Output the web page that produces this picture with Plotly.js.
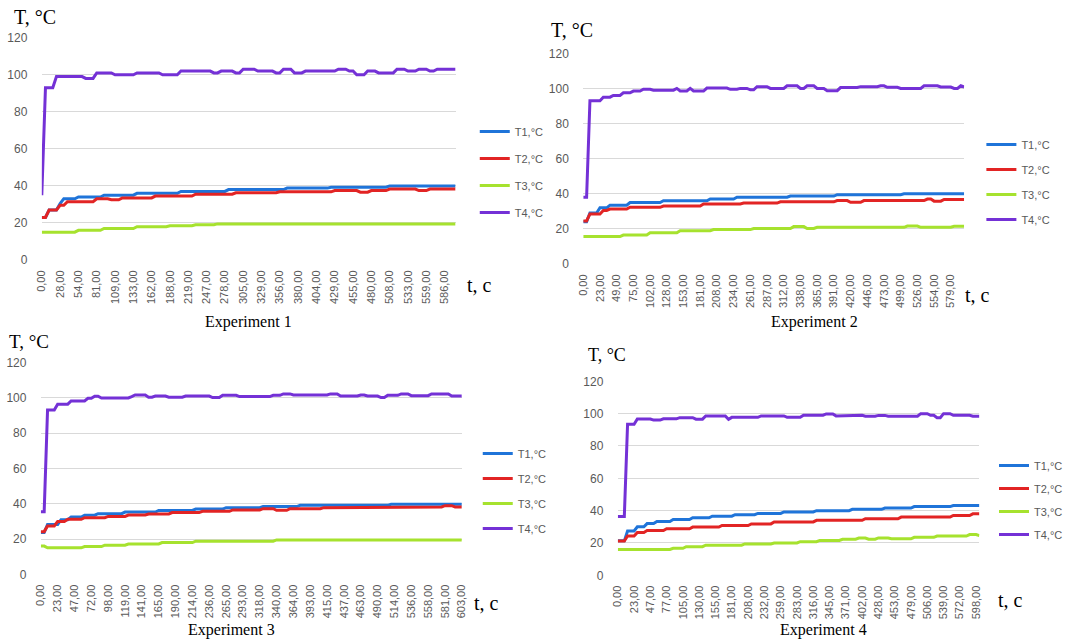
<!DOCTYPE html>
<html>
<head>
<meta charset="utf-8">
<script src="https://cdn.plot.ly/plotly-3.0.1.min.js"></script>
<style>html,body{margin:0;padding:0;background:#fff;}#chart{width:1068px;height:639px;}</style>
</head>
<body>
<div id="chart"></div>
<script>
// ---------- Tick labels (time, s) ----------
const e1Ticks = ["0,00","28,00","54,00","81,00","109,00","133,00","162,00","188,00","219,00","247,00","278,00","305,00","329,00","356,00","380,00","404,00","429,00","455,00","480,00","508,00","533,00","559,00","586,00"];
const e2Ticks = ["0,00","23,00","49,00","75,00","102,00","128,00","153,00","181,00","208,00","234,00","261,00","287,00","312,00","338,00","365,00","391,00","420,00","446,00","473,00","499,00","526,00","554,00","579,00"];
const e3Ticks = ["0,00","23,00","47,00","72,00","98,00","119,00","141,00","165,00","190,00","214,00","236,00","265,00","293,00","318,00","340,00","364,00","393,00","415,00","437,00","463,00","490,00","514,00","536,00","558,00","581,00","603,00"];
const e4Ticks = ["0,00","23,00","47,00","77,00","105,00","130,00","155,00","181,00","208,00","232,00","259,00","283,00","316,00","345,00","371,00","402,00","428,00","453,00","479,00","506,00","539,00","572,00","598,00"];

const seriesNames = ["T1,°C","T2,°C","T3,°C","T4,°C"];

// ---------- Experiment 1 ----------
const e1T1 = [23,23,27,27,27,30.5,33,33,33,33,
 34,34,34,34,34,34,34,35,35,35,
 35,35,35,35,35,35,36,36,36,36,
 36,36,36,36,36,36,36,36,37,37,
 37,37,37,37,37,37,37,37,37,37,
 37,38,38,38,38,38,38,38,38,38,
 38,38,38,38,38,38,38,38.8,38.8,38.8,
 38.8,38.8,38.8,38.8,38.8,38.8,38.8,38.8,38.8,39.3,
 39.3,39.3,39.3,39.3,39.3,39.3,39.3,39.3,39.3,39.3,
 39.3,39.3,39.3,39.3,39.3,40,40,40,40,40,
 40,40,40,40,40,40,40,40,40,40,
 40,40,40,40];
const e1T2 = [23,23,27,27,27,29.5,29.5,31.5,31.5,31.5,
 31.5,31.5,31.5,31.5,31.5,33,33,33,33,32.5,
 32.5,32.5,33.5,33.5,33.5,33.5,33.5,33.5,33.5,33.5,
 33.5,34.5,34.5,34.5,34.5,34.5,34.5,34.5,34.5,34.5,
 34.5,34.5,35.5,35.5,35.5,35.5,35.5,35.5,35.5,35.5,
 35.5,35.5,35.5,36.3,36.3,36.3,36.3,36.3,36.3,36.3,
 36.3,36.3,36.3,36.3,36.3,36.8,36.8,36.8,36.8,36.8,
 36.8,36.8,36.8,36.8,36.8,36.8,36.8,36.8,36.8,36.8,
 37.5,37.5,37.5,37.5,37.5,37.5,37.5,36.6,36.6,36.6,
 37.5,37.5,37.5,37.5,37.5,38.3,38.3,38.3,38.3,38.3,
 38.3,38.3,38.3,37.5,37.5,37.5,38.3,38.3,38.3,38.3,
 38.3,38.3,38.3,38.3];
const e1T3 = [15,15,15,15,15,15,15,15,15,15,
 16,16,16,16,16,16,16,17,17,17,
 17,17,17,17,17,17,18,18,18,18,
 18,18,18,18,18,18.5,18.5,18.5,18.5,18.5,
 18.5,18.5,19,19,19,19,19,19,19.5,19.5,
 19.5,19.5,19.5,19.5,19.5,19.5,19.5,19.5,19.5,19.5,
 19.5,19.5,19.5,19.5,19.5,19.5,19.5,19.5,19.5,19.5,
 19.5,19.5,19.5,19.5,19.5,19.5,19.5,19.5,19.5,19.5,
 19.5,19.5,19.5,19.5,19.5,19.5,19.5,19.5,19.5,19.5,
 19.5,19.5,19.5,19.5,19.5,19.5,19.5,19.5,19.5,19.5,
 19.5,19.5,19.5,19.5,19.5,19.5,19.5,19.5,19.5,19.5,
 19.5,19.5,19.5,19.5];
const e1T4 = [35,93,93,93,99,99,99,99,99,99,
 99,99,98,98,98,101,101,101,101,101,
 100,100,100,100,100,100,101,101,101,101,
 101,101,101,100,100,100,100,100,102,102,
 102,102,102,102,102,102,102,101,101,102,
 102,102,102,101,101,103,103,103,103,102,
 102,102,102,102,101,101,103,103,103,101,
 101,101,102,102,102,102,102,102,102,102,
 102,103,103,103,102,102,100,100,100,102,
 102,102,101,101,101,101,101,103,103,103,
 102,102,102,103,103,103,102,102,103,103,
 103,103,103,103];

// ---------- Experiment 2 ----------
const e2T1 = [24,24,29,29,29,32,32,32,33.5,33.5,
 33.5,33.5,33.5,33.5,35,35,35,35,35,35,
 35,35,35,35,36,36,36,36,36,36,
 36,36,36,36,36,36,36,36,37,37,
 37,37,37,37,37,37,38,38,38,38,
 38,38,38,38,38,38,38,38,38,38,
 38,38,38.7,38.7,38.7,38.7,38.7,38.7,38.7,38.7,
 38.7,38.7,38.7,38.7,38.7,38.7,39.5,39.5,39.5,39.5,
 39.5,39.5,39.5,39.5,39.5,39.5,39.5,39.5,39.5,39.5,
 39.5,39.5,39.5,39.5,39.5,39.5,40,40,40,40,
 40,40,40,40,40,40,40,40,40,40,
 40,40,40,40,40];
const e2T2 = [24.5,24.5,28.5,28.5,28.5,28.5,30.5,30.5,31.3,31.3,
 31.3,31.3,31.3,31.3,32.3,32.3,32.3,32.3,32.3,32.3,
 32.3,32.3,32.3,32.3,33,33,33,33,33,33,
 33,33,33,33,33,33,34.2,34.2,34.2,34.2,
 34.2,34.2,34.2,34.2,34.2,34.2,34.2,34.2,34.7,34.7,
 34.7,34.7,34.7,34.7,34.7,34.7,34.7,34.7,34.7,35.4,
 35.4,35.4,35.4,35.4,35.4,35.4,35.4,35.4,35.4,35.4,
 35.4,35.4,35.4,35.4,35.4,35.4,36.1,36.1,36.1,36.1,
 35.1,35.1,35.1,35.1,36.1,36.1,36.1,36.1,36.1,36.1,
 36.1,36.1,36.1,36.1,36.1,36.1,36.1,36.1,36.1,36.1,
 36.1,36.1,36.1,37,37,35.8,35.8,35.8,36.8,36.8,
 36.8,36.8,36.8,36.8,36.8];
const e2T3 = [15.6,15.6,15.6,15.6,15.6,15.6,15.6,15.6,15.6,15.6,
 15.6,15.6,16.5,16.5,16.5,16.5,16.5,16.5,16.5,16.5,
 17.8,17.8,17.8,17.8,17.8,17.8,17.8,17.8,17.8,19,
 19,19,19,19,19,19,19,19,19,19.6,
 19.6,19.6,19.6,19.6,19.6,19.6,19.6,19.6,19.6,19.6,
 19.6,20.2,20.2,20.2,20.2,20.2,20.2,20.2,20.2,20.2,
 20.2,20.2,20.2,21.3,21.3,21.3,21.3,20.2,20.2,20.2,
 20.9,20.9,20.9,20.9,20.9,20.9,20.9,20.9,20.9,20.9,
 20.9,20.9,20.9,20.9,20.9,20.9,20.9,20.9,20.9,20.9,
 20.9,20.9,20.9,20.9,20.9,20.9,20.9,21.6,21.6,21.6,
 21.6,20.9,20.9,20.9,20.9,20.9,20.9,20.9,20.9,20.9,
 20.9,21.5,21.5,21.5,21.5];
const e2T4 = [38,38,93,93,93,93,95,95,95,96,
 96,96,97.5,97.5,97.5,98.5,98.5,98.5,99.5,99.5,
 99.5,99,99,99,99,99,99,99,100,98.5,
 98.5,98.5,100,98.5,98.5,98.5,98.5,100.2,100.2,100.2,
 100.2,100.2,100.2,100.2,99.5,99.5,99.5,100,100,100,
 99.2,99.2,101,101,101,101,100,100,100,100,
 100,101.5,101.5,101.5,101.5,100,100,101.5,101.5,101.5,
 100,100,100,98.7,98.7,98.7,98.7,100.5,100.5,100.5,
 100.5,100.5,100.5,101,101,101,101,101,101,101.5,
 101.5,100.6,100.6,100.6,100.6,100,100,100,100,100,
 100,100,101.5,101.5,101.5,101.5,101.5,100.8,100.8,100.8,
 100.8,100,100,101.5,100.8];

// ---------- Experiment 3 ----------
const e3T1 = [23.7,23.7,28.3,28.3,28.3,28.3,31,31,31,32.5,
 32.5,32.5,32.5,33.5,33.5,33.5,33.5,34.4,34.4,34.4,
 34.4,34.4,34.4,34.4,34.4,35.3,35.3,35.3,35.3,35.3,
 35.3,35.3,35.3,35.3,35.3,36.2,36.2,36.2,36.2,36.2,
 36.2,36.2,36.2,36.2,36.2,36.2,37,37,37,37,
 37,37,37,37,37,37.8,37.8,37.8,37.8,37.8,
 37.8,37.8,37.8,37.8,37.8,37.8,38.4,38.4,38.4,38.4,
 38.4,38.4,38.4,38.4,38.4,38.4,38.4,39.1,39.1,39.1,
 39.1,39.1,39.1,39.1,39.1,39.1,39.1,39.1,39.1,39.1,
 39.1,39.1,39.1,39.1,39.1,39.1,39.1,39.1,39.1,39.1,
 39.1,39.1,39.1,39.1,39.7,39.7,39.7,39.7,39.7,39.7,
 39.7,39.7,39.7,39.7,39.7,39.7,39.7,39.7,39.7,39.7,
 39.7,39.7,39.7,39.7,39.7,39.7];
const e3T2 = [24.2,24.2,27.4,27.4,27.4,30,30,30,31.2,31.2,
 31.2,31.2,31.2,32.1,32.1,32.1,32.1,32.1,32.1,32.1,
 32.8,32.8,32.8,32.8,32.8,32.8,33.6,33.6,33.6,33.6,
 33.6,33.6,34.2,34.2,34.2,34.2,34.2,34.2,34.2,35,
 35,35,35,35,35,35,35,35,35.7,35.7,
 35.7,35.7,35.7,35.7,35.7,35.7,35.7,36.5,36.5,36.5,
 36.5,36.5,36.5,36.5,36.5,36.5,37.2,37.2,37.2,37.2,
 36.3,36.3,36.3,36.3,37.2,37.2,37.2,37.2,37.2,37.2,
 37.2,37.2,37.2,37.2,37.8,37.8,37.8,37.8,37.8,37.8,
 37.8,37.8,37.8,38.2,38.2,38.2,38.2,38.2,38.2,38.2,
 38.2,38.2,38.2,38.2,38.2,38.2,38.2,38.2,38.2,38.2,
 38.2,38.2,38.2,38.2,38.2,38.2,38.2,38.2,38.2,38.2,
 38.9,38.9,38.9,38.2,38.2,38.2];
const e3T3 = [16,16,15,15,15,15,15,15,15,15,
 15,15,15,15.7,15.7,15.7,15.7,15.7,15.7,16.5,
 16.5,16.5,16.5,16.5,16.5,16.5,17.2,17.2,17.2,17.2,
 17.2,17.2,17.2,17.2,17.2,17.2,18,18,18,18,
 18,18,18,18,18,18,18.8,18.8,18.8,18.8,
 18.8,18.8,18.8,18.8,18.8,18.8,18.8,18.8,18.8,18.8,
 18.8,18.8,18.8,18.8,18.8,18.8,18.8,18.8,18.8,18.8,
 19.5,19.5,19.5,19.5,19.5,19.5,19.5,19.5,19.5,19.5,
 19.5,19.5,19.5,19.5,19.5,19.5,19.5,19.5,19.5,19.5,
 19.5,19.5,19.5,19.5,19.5,19.5,19.5,19.5,19.5,19.5,
 19.5,19.5,19.5,19.5,19.5,19.5,19.5,19.5,19.5,19.5,
 19.5,19.5,19.5,19.5,19.5,19.5,19.5,19.5,19.5,19.5,
 19.5,19.5,19.5,19.5,19.5,19.5];
const e3T4 = [35.5,35.5,93.2,93.2,93.2,96.5,96.5,96.5,96.5,98.3,
 98.3,98.3,98.3,98.3,99.8,99.8,101,101,100,100,
 100,100,100,100,100,100,100,100.8,101.7,101.7,
 101.7,101.7,100.4,100.4,101.1,101.1,101.1,101.1,100.4,100.4,
 100.4,100.4,100.4,101.1,101.1,101.1,101.1,101.1,101.1,101.1,
 101.1,100.2,100.2,100.2,101.5,101.5,101.5,101.5,101.5,100.8,
 100.8,100.8,100.8,100.8,100.8,100.8,100.8,100.8,100.8,101.5,
 101.5,101.5,102.3,102.3,102.3,101.7,101.7,101.7,101.7,101.7,
 101.7,101.7,101.7,101.7,101.7,101.7,102.3,102.3,102.3,101.1,
 101.1,101.1,101.1,101.1,101.1,101.7,101.7,101.1,101.1,101.1,
 101.1,100.2,100.2,101.5,101.5,101.5,101.5,102.3,102.3,102.3,
 101.3,101.3,101.3,101.3,101.3,101.3,102.3,102.3,102.3,102.3,
 102.3,102.3,101.1,101.1,101.1,101.1];

// ---------- Experiment 4 ----------
const e4T1 = [21.3,21.3,21.3,27.4,27.4,27.4,30,30,30,32,
 32,32,33.3,33.3,33.3,33.3,33.3,34.5,34.5,34.5,
 34.5,34.5,34.5,35.6,35.6,35.6,35.6,35.6,35.6,36.6,
 36.6,36.6,36.6,36.6,36.6,36.6,37.5,37.5,37.5,37.5,
 37.5,37.5,37.5,38.3,38.3,38.3,38.3,38.3,38.3,38.3,
 38.3,39.2,39.2,39.2,39.2,39.2,39.2,39.2,39.2,39.2,
 39.2,40,40,40,40,40,40,40,40,40,
 40,40,40.8,40.8,40.8,40.8,40.8,40.8,40.8,40.8,
 40.8,40.8,41.6,41.6,41.6,41.6,41.6,41.6,41.6,41.6,
 41.6,42.5,42.5,42.5,42.5,42.5,42.5,42.5,42.5,42.5,
 42.5,42.5,42.5,43.2,43.2,43.2,43.2,43.2,43.2,43.2,
 43.2,43.2];
const e4T2 = [21.2,21.2,21.2,24.3,24.3,24.3,26.5,26.5,26.5,27.7,
 27.7,27.7,27.7,27.7,27.7,28.8,28.8,28.8,28.8,28.8,
 28.8,28.8,28.8,29.8,29.8,29.8,29.8,29.8,29.8,29.8,
 29.8,29.8,30.8,30.8,30.8,30.8,30.8,30.8,30.8,30.8,
 30.8,31.8,31.8,31.8,31.8,31.8,31.8,31.8,33,33,
 33,33,33,33,33,33,33,33,33,33,
 33,34,34,34,34,34,34,34,34,34,
 34,34,34,34,34,34,35,35,35,35,
 35,35,35,35,35,35,35,36,36,36,
 36,36,36,36,36,36,36,36,36,36,
 36,36,36,37,37,37,37,37,37,38,
 38,38];
const e4T3 = [16,16,16,16,16,16,16,16,16,16,
 16,16,16,16,16,16,16,16.7,16.7,16.7,
 16.7,17.7,17.7,17.7,17.7,17.7,17.7,18.6,18.6,18.6,
 18.6,18.6,18.6,18.6,18.6,18.6,18.6,18.6,18.6,19.4,
 19.4,19.4,19.4,19.4,19.4,19.4,19.4,19.4,20,20,
 20,20,20,20,20,20,20.8,20.8,20.8,20.8,
 20.8,20.8,21.6,21.6,21.6,21.6,21.6,21.6,21.6,22.3,
 22.3,22.3,22.3,22.3,23,23,23,22.3,22.3,22.3,
 23.1,23.1,23.1,23.1,22.6,22.6,22.6,22.6,22.6,22.6,
 22.6,23.5,23.5,23.5,23.5,23.5,23.5,23.5,24.3,24.3,
 24.3,24.3,24.3,24.3,24.3,24.3,24.3,24.3,25.2,25.2,
 25.2,24.5];
const e4T4 = [36.3,36.3,36.3,93.4,93.4,93.4,96.7,96.7,96.7,96.7,
 96.7,96,96,96,96.8,96.8,96.8,96.8,96.8,97.5,
 97.5,97.5,97.5,97.5,96.6,96.6,96.6,98.6,98.6,98.6,
 98.6,98.6,98.6,98.6,96.5,97.7,97.7,97.7,97.7,97.7,
 97.7,97.7,97.7,97.7,98.6,98.6,98.6,98.6,98.6,98.6,
 98.6,98.6,97.7,97.7,97.7,97.7,97.7,99,99,99,
 99,99,99,99,99.8,99.8,99.8,98.6,98.6,98.6,
 98.6,98.6,99,99,99,99,98.4,98.4,98.4,98.4,
 98.9,98.9,98.9,98.4,98.4,98.4,98.4,98.4,98.4,98.4,
 98.4,98.4,98.4,100,100,100,99,99,97.5,97.5,
 100,100,100,99,99,99,99,99,99,98.4,
 98.4,98.4];

// ---------- Build ----------
const colors = ["#1f74d9", "#e22424", "#a6e22e", "#7431d6"];
const W = 1068, H = 639;
const px = v => v / W, py = v => 1 - v / H;
const labelEvery = 5; // samples between displayed category labels

const experiments = [
  {series:[e1T1,e1T2,e1T3,e1T4], ticks:e1Ticks, dx:[42,457.7], dy:[260,37.7], leg:[477,117], gap:8, ax:'', lg:'legend'},
  {series:[e2T1,e2T2,e2T3,e2T4], ticks:e2Ticks, dx:[586,968.7], dy:[264,53.3], leg:[986,130], gap:6, ax:'2', lg:'legend2'},
  {series:[e3T1,e3T2,e3T3,e3T4], ticks:e3Ticks, dx:[41,464], dy:[574.3,362.7], leg:[480,439], gap:6, ax:'3', lg:'legend3'},
  {series:[e4T1,e4T2,e4T3,e4T4], ticks:e4Ticks, dx:[620.7,984], dy:[575.3,381.3], leg:[999,451], gap:4, ax:'4', lg:'legend4'}
];

const yTickFont = {family:'Liberation Sans, Arial, sans-serif', size:12, color:'#595959'};
const xTickFont = {family:'Liberation Sans, Arial, sans-serif', size:11, color:'#595959'};
const traces = [];
const layout = {
  width: W, height: H, margin:{l:0,r:0,t:0,b:0},
  paper_bgcolor:'#ffffff', plot_bgcolor:'#ffffff',
  showlegend: true, hovermode:false,
  annotations: []
};

experiments.forEach((ex, k) => {
  const n = ex.series[0].length;
  const xs = ex.series[0].map((_, i) => i);
  ex.series.forEach((ys, s) => {
    traces.push({
      type:'scatter', mode:'lines', x: xs, y: ys,
      name: seriesNames[s],
      line:{color: colors[s], width: 3},
      xaxis: 'x' + ex.ax, yaxis: 'y' + ex.ax,
      legend: ex.lg, legendgroup: 'e' + k + 's' + s,
      hoverinfo:'skip'
    });
  });
  layout['xaxis' + ex.ax] = {
    domain:[px(ex.dx[0]), px(ex.dx[1])], anchor:'y' + ex.ax,
    range:[0, n - 1], showgrid:false, zeroline:false, showline:false,
    tickmode:'array', tickvals: ex.ticks.map((_, j) => j * labelEvery), ticktext: ex.ticks,
    tickangle:-90, tickfont: xTickFont, ticks:'outside', ticklen:5, tickcolor:'rgba(0,0,0,0)',
    fixedrange:true
  };
  layout['yaxis' + ex.ax] = {
    domain:[py(ex.dy[0]), py(ex.dy[1])], anchor:'x' + ex.ax,
    range:[0,120], tick0:0, dtick:20, showgrid:true, gridcolor:'#d9d9d9', gridwidth:1,
    zeroline:false, showline:false, tickfont: yTickFont,
    ticks:'outside', ticklen:11, tickcolor:'rgba(0,0,0,0)', fixedrange:true
  };
  layout[ex.lg] = {
    x: px(ex.leg[0]), y: py(ex.leg[1]), xanchor:'left', yanchor:'top',
    bgcolor:'rgba(0,0,0,0)', borderwidth:0, tracegroupgap: ex.gap, traceorder:'grouped',
    font:{family:'Liberation Sans, Arial, sans-serif', size:11, color:'#595959'}
  };
});

const serif = 'Liberation Serif, Times New Roman, serif';
const textItems = [
  ["T, °C", 35, 17, 20], ["t, c", 482, 285, 20], ["Experiment 1", 250, 322, 16],
  ["T, °C", 575, 30, 20], ["t, c", 982, 295, 20], ["Experiment 2", 818, 322, 16],
  ["T, °C", 29, 342, 19], ["t, c", 489, 603, 20], ["Experiment 3", 233, 630, 16],
  ["T, °C", 610, 355, 18], ["t, c", 1015, 600, 20], ["Experiment 4", 827, 630, 16]
];
textItems.forEach(([t, x, y, s]) => {
  layout.annotations.push({text: t, xref:'paper', yref:'paper', x: px(x), y: py(y),
    xanchor:'center', yanchor:'middle', showarrow:false,
    font:{family: serif, size: s, color:'#000000'}});
});

Plotly.newPlot('chart', traces, layout, {staticPlot:true, displayModeBar:false});
</script>
</body>
</html>
